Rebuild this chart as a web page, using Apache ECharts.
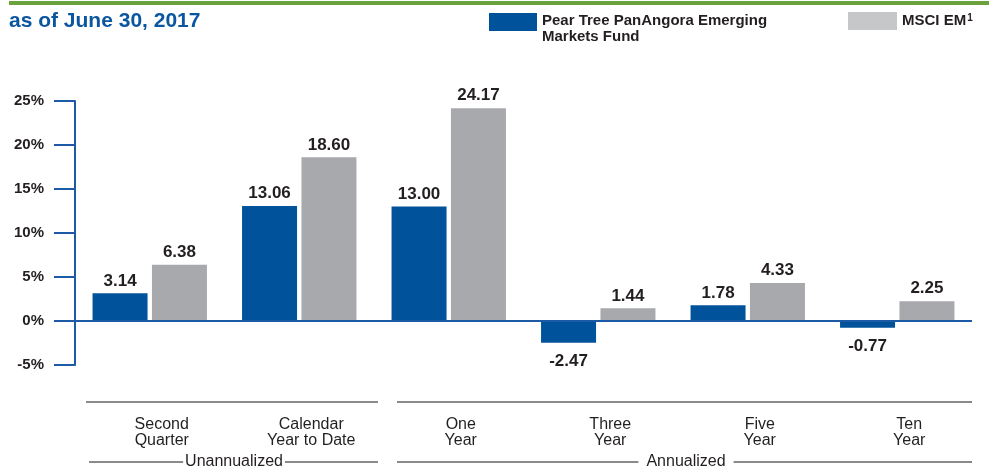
<!DOCTYPE html>
<html>
<head>
<meta charset="utf-8">
<script src="https://cdn.jsdelivr.net/npm/echarts@6/dist/echarts.min.js"></script>
<style>
  html, body { margin: 0; padding: 0; background: #fff; }
  #chart { width: 989px; height: 470px; }
</style>
</head>
<body>
<div id="chart"></div>
<script>
// data
const categories = ['Second\nQuarter', 'Calendar\nYear to Date', 'One\nYear', 'Three\nYear', 'Five\nYear', 'Ten\nYear']
const fundName = 'Pear Tree PanAngora Emerging Markets Fund'
const indexName = 'MSCI EM'
const fundValues = [3.14, 13.06, 13.00, -2.47, 1.78, -0.77]
const indexValues = [6.38, 18.60, 24.17, 1.44, 4.33, 2.25]
const yTicks = { min: -5, max: 25, interval: 5 }
const groupLabels = ['Unannualized', 'Annualized']

const BLUE = '#00539b'
const GRAY = '#a7a9ac'
const TEXT = '#231f20'
const BOLD = 'Liberation Sans, Arial, sans-serif'
const NARROW = '"Liberation Sans Narrow", "Liberation Sans", sans-serif'

const chart = echarts.init(document.getElementById('chart'), null, { renderer: 'canvas' })

// value labels: above for positive bars, below for negative ones
const toData = arr => arr.map(v => ({
    value: v,
    label: v < 0 ? { position: 'bottom', distance: 10 } : { position: 'top', distance: 4 }
}))

const valueLabel = {
    show: true,
    fontFamily: BOLD,
    fontWeight: 'bold',
    fontSize: 17,
    color: TEXT,
    formatter: p => p.value.toFixed(2)
}

const legendText = { fontFamily: BOLD, fontWeight: 'bold', fontSize: 15, color: TEXT }

const option = {
    animation: false,
    title: {
        text: 'as of June 30, 2017',
        left: 9,
        top: 11,
        padding: 0,
        textStyle: { fontFamily: BOLD, fontWeight: 'bold', fontSize: 21, color: '#0b56a0' }
    },
    legend: [
        {
            data: [{ name: fundName, itemStyle: { color: BLUE } }],
            left: 489,
            top: 5,
            padding: 0,
            itemWidth: 48,
            itemHeight: 18,
            icon: 'rect',
            selectedMode: false,
            // empty first line pushes the wrapped name down so it starts level with the box
            formatter: () => '{e| }\n{t|Pear Tree PanAngora Emerging}\n{t|Markets Fund}',
            textStyle: {
                ...legendText,
                rich: {
                    e: { fontSize: 2, lineHeight: 13 },
                    t: { ...legendText, lineHeight: 16 }
                }
            }
        },
        {
            data: [{ name: indexName, itemStyle: { color: '#c6c7c9' } }],
            left: 848,
            top: 12,
            padding: 0,
            itemWidth: 49,
            itemHeight: 18,
            icon: 'rect',
            selectedMode: false,
            formatter: name => name + '{sup|1}',
            textStyle: {
                ...legendText,
                rich: { sup: { ...legendText, fontSize: 10, verticalAlign: 'top', padding: [0, 0, 6, 1] } }
            }
        }
    ],
    grid: { left: 75, right: 17, top: 101, bottom: 105 },
    xAxis: {
        type: 'category',
        data: categories,
        axisLine: { show: false, onZero: false },
        axisTick: { show: false },
        axisLabel: {
            margin: 52,
            fontFamily: NARROW,
            fontSize: 16,
            lineHeight: 16,
            color: TEXT,
            padding: [0, 0, 0, 24]
        }
    },
    yAxis: {
        type: 'value',
        min: yTicks.min,
        max: yTicks.max,
        interval: yTicks.interval,
        splitLine: { show: false },
        axisLine: { show: true, lineStyle: { color: '#1c5aa6', width: 2 } },
        axisTick: { show: true, length: 21, lineStyle: { color: '#1c5aa6', width: 2 } },
        axisLabel: {
            margin: 31,
            fontFamily: BOLD,
            fontWeight: 'bold',
            fontSize: 15,
            color: TEXT,
            formatter: '{value}%'
        }
    },
    series: [
        {
            name: fundName,
            type: 'bar',
            data: toData(fundValues),
            barWidth: 55,
            barGap: '8%',
            itemStyle: { color: BLUE },
            label: valueLabel,
            markLine: {
                silent: true,
                symbol: 'none',
                label: { show: false },
                lineStyle: { color: '#1c5aa6', width: 2, type: 'solid' },
                data: [{ yAxis: 0 }],
                z: 10
            }
        },
        {
            name: indexName,
            type: 'bar',
            data: toData(indexValues),
            barWidth: 55,
            itemStyle: { color: GRAY },
            label: valueLabel
        }
    ],
    graphic: [
        // green rule across the top
        { type: 'rect', shape: { x: 9, y: 1, width: 980, height: 4 }, style: { fill: '#6aa23c' } },
        // bracket lines under the axis
        { type: 'line', shape: { x1: 86, y1: 402, x2: 378, y2: 402 }, style: { stroke: '#8a8a8a', lineWidth: 2 } },
        { type: 'line', shape: { x1: 397, y1: 402, x2: 972, y2: 402 }, style: { stroke: '#8a8a8a', lineWidth: 2 } },
        { type: 'line', shape: { x1: 89, y1: 462, x2: 378, y2: 462 }, style: { stroke: '#8a8a8a', lineWidth: 2 } },
        { type: 'line', shape: { x1: 397, y1: 462, x2: 972, y2: 462 }, style: { stroke: '#8a8a8a', lineWidth: 2 } },
        {
            type: 'text', x: 234, y: 462, z: 10,
            style: {
                text: groupLabels[0], fontFamily: NARROW, fontSize: 16, fill: TEXT,
                align: 'center', verticalAlign: 'middle', backgroundColor: '#fff', padding: [0, 2]
            }
        },
        {
            type: 'text', x: 686, y: 462, z: 10,
            style: {
                text: groupLabels[1], fontFamily: NARROW, fontSize: 16, fill: TEXT,
                align: 'center', verticalAlign: 'middle', backgroundColor: '#fff', padding: [0, 8]
            }
        }
    ]
}

chart.setOption(option)
</script>
</body>
</html>
